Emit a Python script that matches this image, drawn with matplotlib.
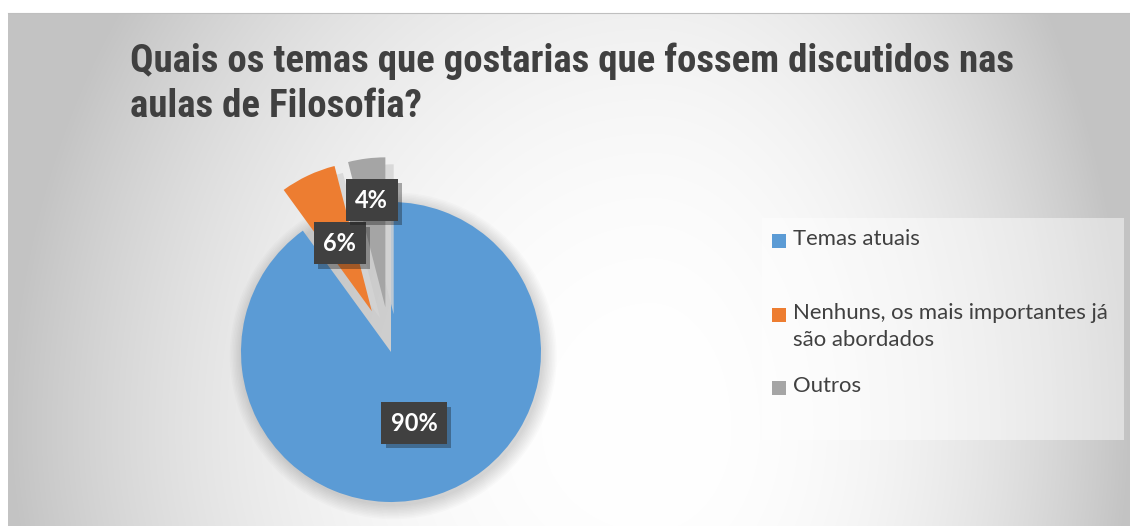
import numpy as np
import matplotlib
matplotlib.use("Agg")
import matplotlib.pyplot as plt
from matplotlib.patches import Rectangle
import matplotlib.patheffects as pe

W, H = 1130, 526

labels = ["Temas atuais", "Nenhuns, os mais importantes já\nsão abordados", "Outros"]
values = [90, 6, 4]
colors = ["#5B9BD5", "#ED7D31", "#A5A5A5"]
explode = [0, 0.3, 0.3]
title = "Quais os temas que gostarias que fossem discutidos nas\naulas de Filosofia?"

fig = plt.figure(figsize=(W / 100, H / 100), dpi=100)
fig.patch.set_facecolor("white")

# background gradient (chart area starts at x=8, y=13)
bx0, by0 = 8, 13
bg = fig.add_axes([bx0 / W, 0, 1 - bx0 / W, (H - by0) / H])
X, Y = np.meshgrid(np.arange(bx0, W), np.arange(by0, H))
cx, cy = 650, 430
u = np.where(X < cx, (cx - X) / (cx - bx0), (X - cx) / (W - cx))
v = np.where(Y < cy, (cy - Y) / 755, (Y - cy) / 600)
r = np.clip(np.sqrt(u ** 2 + v ** 2), 0, 1)
g = 1 - 0.235 * r ** 2.3
bg.imshow(np.dstack([g, g, g]), aspect="auto", extent=(0, 1, 0, 1), interpolation="bilinear")
bg.set_xlim(0, 1)
bg.set_ylim(0, 1)
bg.set_xticks([])
bg.set_yticks([])
for s in bg.spines.values():
    s.set_visible(False)
bg.spines["top"].set_visible(True)
bg.spines["top"].set_color("#bfbfbf")

# title
fig.text(130 / W, 1 - 43 / H, title,
         fontfamily=["Liberation Sans Narrow", "Roboto Condensed", "Asap Condensed", "DejaVu Sans"],
         fontweight="bold", fontsize=28, color="#404040", va="top", ha="left", linespacing=1.25)

# pie
R = 150
pcx, pcy = 391, 352
lim = 1.5
side = 2 * lim * R
ax = fig.add_axes([(pcx - side / 2) / W, (H - pcy - side / 2) / H, side / W, side / H])

# soft shadow under the pie
for k in range(10):
    ax.add_patch(plt.Circle((0.015, -0.025), 1.0 + 0.01 * k, color="#000000", alpha=0.014, lw=0, zorder=0))

wedges, texts, autotexts = ax.pie(values, colors=colors, explode=explode, startangle=90,
                                  counterclock=False, autopct="%1.0f%%", pctdistance=0.5,
                                  wedgeprops=dict(linewidth=0))
ax.set_xlim(-lim, lim)
ax.set_ylim(-lim, lim)
ax.set_aspect("equal")
ax.axis("off")

for w in wedges[1:]:
    w.set_zorder(2)
    w.set_path_effects([pe.SimplePatchShadow(offset=(6, -5), shadow_rgbFace="#d4d4d4", alpha=0.8), pe.Normal()])

# move the small "Outros" label further out (best-fit style)
w = wedges[2]
ang = np.deg2rad((w.theta1 + w.theta2) / 2)
ccx, ccy = w.center
autotexts[2].set_position((ccx + 0.72 * np.cos(ang), ccy + 0.72 * np.sin(ang)))

for t in autotexts:
    t.set_color("white")
    t.set_fontfamily("Lato")
    t.set_fontweight("bold")
    t.set_fontsize(17)
    t.set_zorder(5)
    t.set_bbox(dict(boxstyle="square,pad=0.4", facecolor="#404040", edgecolor="none"))
    t.get_bbox_patch().set_path_effects([pe.SimplePatchShadow(offset=(3, -3), alpha=0.35), pe.Normal()])

# legend drawn manually
lx0, ly0, lx1, ly1 = 762, 218, 1124, 440
fig.patches.append(Rectangle((lx0 / W, 1 - ly1 / H), (lx1 - lx0) / W, (ly1 - ly0) / H,
                             transform=fig.transFigure, facecolor="white", alpha=0.45,
                             edgecolor="none", zorder=1))
entry_y = [241, 315, 388]
for lab, col, ey in zip(labels, colors, entry_y):
    fig.patches.append(Rectangle((772 / W, 1 - (ey + 7) / H), 14 / W, 14 / H,
                                 transform=fig.transFigure, facecolor=col, edgecolor="none", zorder=2))
    fig.text(793 / W, 1 - (ey - 12) / H, lab, fontfamily="Lato", fontsize=15.9, color="#404040",
             va="top", ha="left", linespacing=1.45)

fig.savefig("out.png", dpi=100)
